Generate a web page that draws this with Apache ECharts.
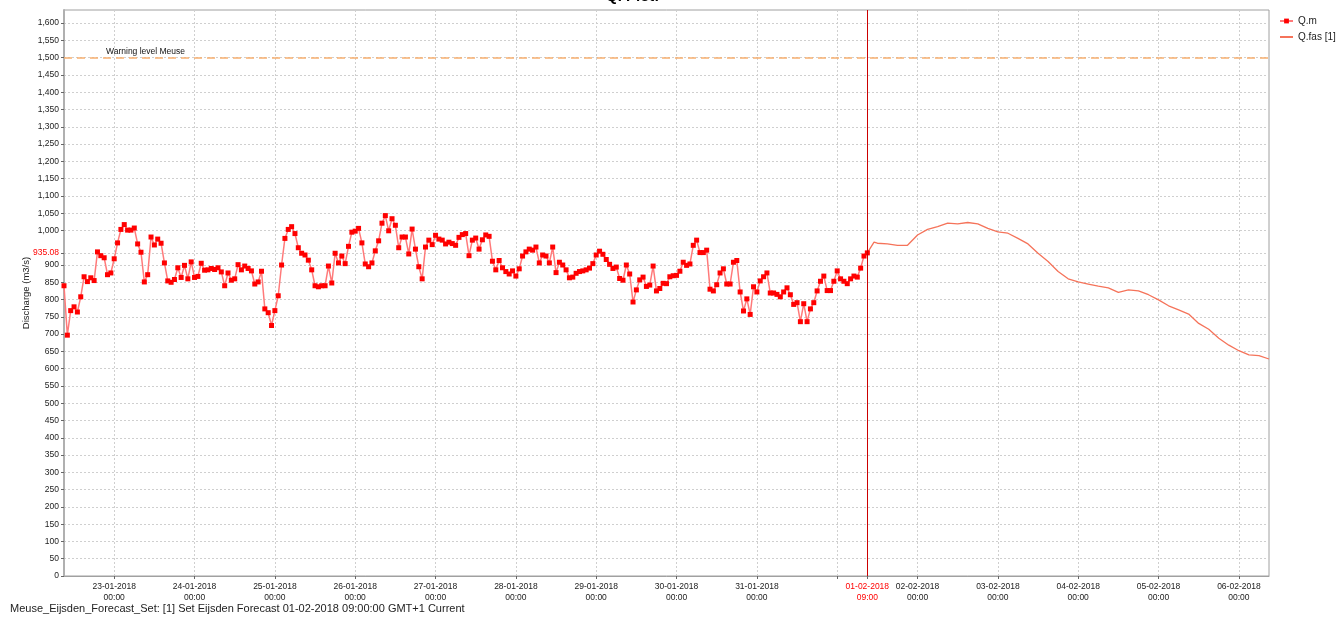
<!DOCTYPE html>
<html>
<head>
<meta charset="utf-8">
<script src="https://cdn.jsdelivr.net/npm/echarts@6/dist/echarts.min.js"></script>
<style>html,body{margin:0;padding:0;background:#fff;}#c{width:1338px;height:617px;}</style>
</head>
<body>
<div id="c"></div>
<script>
// ---- data ----
var obsStart = '2018-01-22T09:00:00Z'; // hourly observations
var obsValues = [
840,697,768,779,764,808,866,852,863,855,938,927,921,872,877,918,964,1003,1017,1001,
1001,1007,961,937,851,872,981,958,975,963,906,854,850,858,892,864,899,860,909,864,
867,905,885,886,890,887,892,880,840,877,856,860,901,886,897,890,883,845,851,882,
773,762,725,768,811,900,977,1003,1011,991,950,934,929,914,886,840,837,840,840,897,
848,934,906,926,904,954,995,998,1006,964,903,895,906,941,970,1021,1043,999,1034,1015,
950,981,981,932,1004,946,895,860,952,972,959,986,975,972,961,966,962,957,980,988,
991,927,972,978,946,973,987,983,911,886,913,892,881,874,883,868,889,926,938,946,
943,952,906,929,926,906,952,878,908,900,886,863,865,876,881,883,886,891,904,929,
940,931,916,902,890,894,861,856,900,874,793,828,857,865,838,842,897,825,832,847,
846,866,869,870,882,908,899,903,957,972,936,936,943,830,825,843,877,889,845,845,
908,913,822,767,802,757,837,822,854,866,877,819,819,815,808,822,834,814,786,791,
736,788,736,773,791,825,853,868,826,826,853,883,860,853,846,860,868,865,891,926,
935.08
];
var fcTimes = [
'2018-02-01T09:00:00Z','2018-02-01T11:00:00Z','2018-02-01T12:00:00Z','2018-02-01T15:00:00Z','2018-02-01T18:00:00Z',
'2018-02-01T21:00:00Z','2018-02-02T00:00:00Z','2018-02-02T03:00:00Z','2018-02-02T06:00:00Z','2018-02-02T09:00:00Z',
'2018-02-02T12:00:00Z','2018-02-02T15:00:00Z','2018-02-02T18:00:00Z','2018-02-02T21:00:00Z','2018-02-03T00:00:00Z',
'2018-02-03T03:00:00Z','2018-02-03T06:00:00Z','2018-02-03T09:00:00Z','2018-02-03T12:00:00Z','2018-02-03T15:00:00Z',
'2018-02-03T18:00:00Z','2018-02-03T21:00:00Z','2018-02-04T00:00:00Z','2018-02-04T03:00:00Z','2018-02-04T06:00:00Z',
'2018-02-04T09:00:00Z','2018-02-04T12:00:00Z','2018-02-04T15:00:00Z','2018-02-04T18:00:00Z','2018-02-04T21:00:00Z',
'2018-02-05T00:00:00Z','2018-02-05T03:00:00Z','2018-02-05T06:00:00Z','2018-02-05T09:00:00Z','2018-02-05T12:00:00Z',
'2018-02-05T15:00:00Z','2018-02-05T18:00:00Z','2018-02-05T21:00:00Z','2018-02-06T00:00:00Z','2018-02-06T03:00:00Z',
'2018-02-06T06:00:00Z','2018-02-06T09:00:00Z'
];
var fcValues = [
935,966,963,961,957,957,987,1003,1011,1021,1019,1023,1019,1006,996,992,977,961,934,910,
881,860,851,845,839,834,821,828,825,814,799,782,770,758,731,714,688,668,652,640,638,628
];
var yTicks = [0,50,100,150,200,250,300,350,400,450,500,550,600,650,700,750,800,850,900,935.08,
1000,1050,1100,1150,1200,1250,1300,1350,1400,1450,1500,1550,1600];
var dayTicks = ['2018-01-23','2018-01-24','2018-01-25','2018-01-26','2018-01-27','2018-01-28','2018-01-29',
'2018-01-30','2018-01-31','2018-02-01','2018-02-02','2018-02-03','2018-02-04','2018-02-05','2018-02-06'];
var forecastTime = '2018-02-01T09:00:00Z';
var warningLevel = 1500;
var warningLabel = 'Warning level Meuse';
var latestValue = 935.08;
var titleText = 'Q. Plot:';
var footerText = 'Meuse_Eijsden_Forecast_Set: [1] Set Eijsden Forecast 01-02-2018 09:00:00 GMT+1 Current';
var xMin = '2018-01-22T09:00:00Z', xMax = '2018-02-06T09:00:00Z';

// ---- build (x axis in hours since 22-01-2018 00:00) ----
var H = 3600000;
var EPOCH = Date.parse('2018-01-22T00:00:00Z');
function toH(iso){ return (Date.parse(iso) - EPOCH) / H; }
var h0 = toH(obsStart);
var obsData = obsValues.map(function(v,i){ return [h0 + i, v]; });
var fcData = fcValues.map(function(v,i){ return [toH(fcTimes[i]), v]; });
var T0 = toH(forecastTime);
var dayH = dayTicks.map(function(d){ return toH(d+'T00:00:00Z'); });
var tickVals = dayH.concat([T0]).sort(function(a,b){return a-b;});
var hideDay = toH('2018-02-01T00:00:00Z');
var labelVals = dayH.filter(function(d){ return d !== hideDay; }).concat([T0]).sort(function(a,b){return a-b;});
function p2(n){ return (n<10?'0':'')+n; }
var FONT = 'Liberation Sans';

var chart = echarts.init(document.getElementById('c'));
chart.setOption({
  animation: false,
  backgroundColor: '#fff',
  textStyle: { fontFamily: FONT },
  grid: { left: 64, right: 69, top: 10, bottom: 41, show: true, borderColor: '#a0a0a0', borderWidth: 1, containLabel: false },
  legend: {
    orient: 'vertical', left: 1279, top: 15, itemGap: 4, itemWidth: 13, itemHeight: 6, padding: 0,
    textStyle: { fontSize: 10, color: '#222', fontFamily: FONT, lineHeight: 12 },
    data: [
      { name: 'Q.m' },
      { name: 'Q.fas [1]', itemStyle: { opacity: 0 } }
    ]
  },
  xAxis: {
    type: 'value', min: toH(xMin), max: toH(xMax),
    axisLine: { show: true, onZero: false, lineStyle: { color: '#a0a0a0' } },
    axisTick: { show: true, length: 3, lineStyle: { color: '#666' }, customValues: tickVals },
    splitLine: { show: true, lineStyle: { color: '#cfcfcf', type: [2,2], width: 1 } },
    axisLabel: {
      customValues: labelVals, fontSize: 8.5, color: '#222', lineHeight: 11, margin: 5,
      formatter: function(v){
        var d = new Date(EPOCH + v*H);
        var a = p2(d.getUTCDate())+'-'+p2(d.getUTCMonth()+1)+'-'+d.getUTCFullYear();
        var b = p2(d.getUTCHours())+':'+p2(d.getUTCMinutes());
        if (Math.abs(v - T0) < 1e-6) return '{r|'+a+'}\n{r|'+b+'}';
        return a+'\n'+b;
      },
      rich: { r: { color: '#ff0000', fontSize: 8.5, lineHeight: 11, fontFamily: FONT } }
    }
  },
  yAxis: {
    type: 'value', min: 0, max: 1638, interval: 50,
    name: 'Discharge (m3/s)', nameLocation: 'middle', nameGap: 33, nameRotate: 90, nameMoveOverlap: false,
    nameTextStyle: { fontSize: 9.5, color: '#222', fontFamily: FONT },
    axisLine: { show: true, lineStyle: { color: '#b0b0b0', width: 2 } },
    axisTick: { show: true, length: 3, lineStyle: { color: '#666' }, customValues: yTicks },
    splitLine: { show: true, lineStyle: { color: '#cfcfcf', type: [2,2], width: 1 } },
    axisLabel: {
      customValues: yTicks, fontSize: 8.5, color: '#222', margin: 5,
      formatter: function(v){
        if (Math.abs(v - latestValue) < 1e-6) return '{r|' + latestValue.toFixed(2) + '}';
        return v.toLocaleString('en-US');
      },
      rich: { r: { color: '#ff0000', fontSize: 8.5, fontFamily: FONT } }
    }
  },
  graphic: [
    { type: 'text', left: 606, top: -11, style: { text: titleText, fontSize: 15, fontWeight: 'bold', fill: '#000', fontFamily: FONT } },
    { type: 'text', left: 10, top: 603, style: { text: footerText, fontSize: 11, fill: '#222', fontFamily: FONT } }
  ],
  series: [
    {
      name: 'Q.m', type: 'line', data: obsData, symbol: 'rect', symbolSize: 5, showSymbol: true,
      itemStyle: { color: '#ff0000' },
      lineStyle: { color: '#ff7a7a', width: 1.5 },
      z: 3,
      markLine: {
        silent: true, symbol: 'none', animation: false,
        data: [{ yAxis: warningLevel }],
        lineStyle: { color: '#f8b070', type: [8,5], width: 1.5 },
        label: { show: true, position: 'insideStartTop', formatter: warningLabel, fontSize: 8.5, color: '#111', padding: [0,0,0,40], distance: 2, fontFamily: FONT }
      }
    },
    {
      name: 'Q.fas [1]', type: 'line', data: fcData, symbol: 'none', showSymbol: false,
      itemStyle: { color: '#f5735a' },
      lineStyle: { color: '#f5735a', width: 1.3 },
      z: 2,
      markLine: {
        silent: true, symbol: 'none', animation: false,
        data: [{ xAxis: T0 }],
        lineStyle: { color: '#cc0000', type: 'solid', width: 1 },
        label: { show: false }
      }
    }
  ]
});
</script>
</body>
</html>
